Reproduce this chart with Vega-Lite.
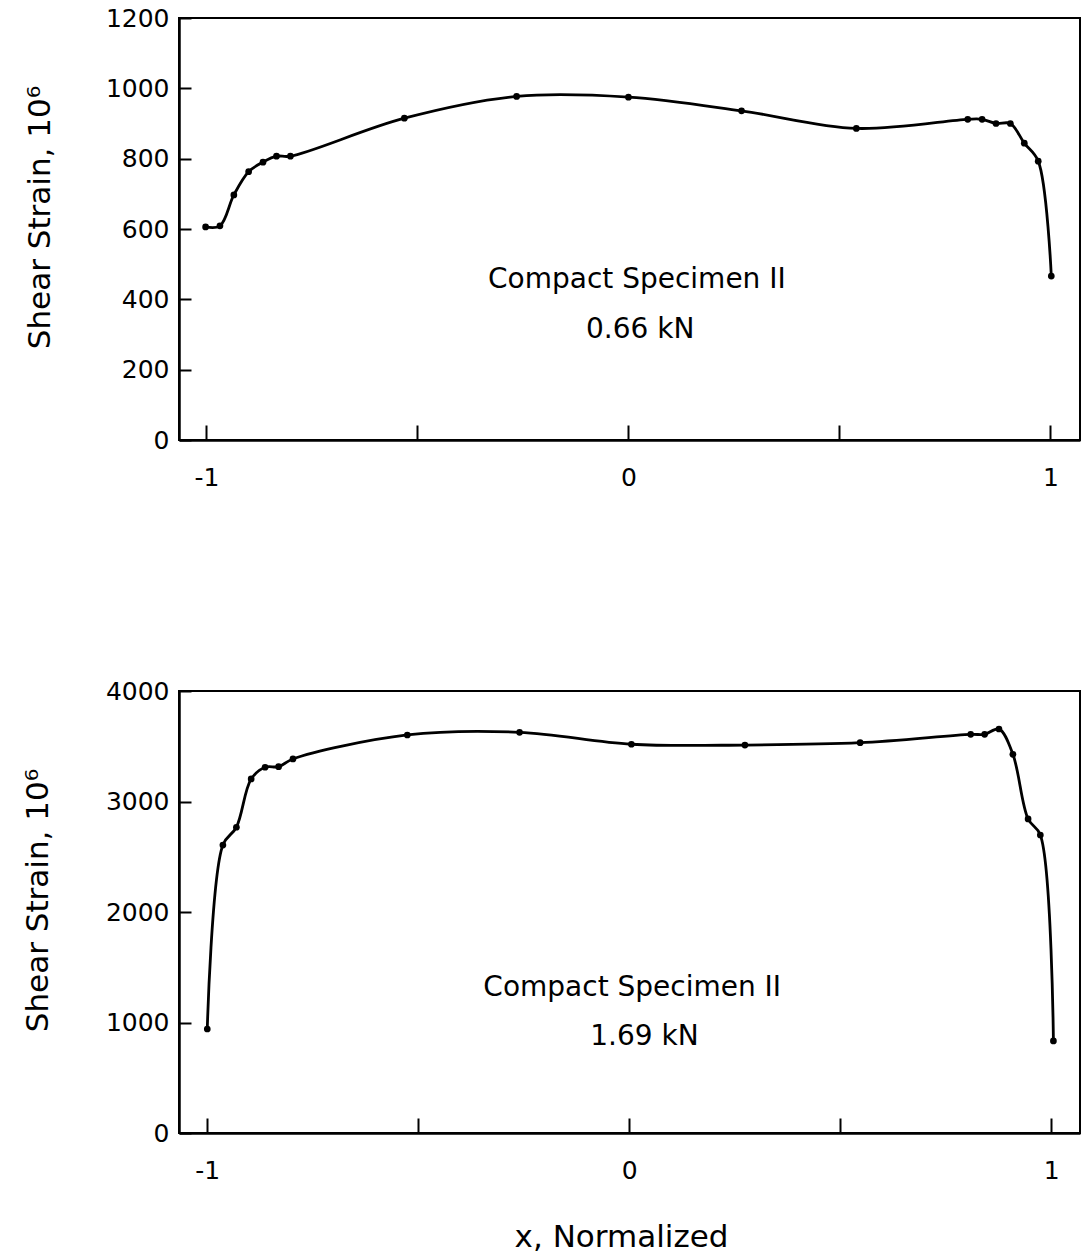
{
  "$schema": "https://vega.github.io/schema/vega-lite/v6.json",
  "background": "white",
  "padding": {"left": 20, "top": 5, "right": 0, "bottom": 5},
  "spacing": 187,
  "config": {
    "font": "DejaVu Sans",
    "view": {"stroke": "black", "strokeWidth": 2},
    "axis": {
      "grid": false,
      "domainColor": "black",
      "domainWidth": 2.5,
      "tickColor": "black",
      "tickWidth": 2,
      "labelColor": "black",
      "labelFont": "DejaVu Sans",
      "labelFontSize": 25,
      "titleFont": "DejaVu Sans",
      "titleFontSize": 31,
      "titleFontWeight": "normal",
      "titleColor": "black"
    },
    "axisX": {"tickSize": -15, "labelPadding": 40},
    "axisY": {"tickSize": -12, "labelPadding": 22, "format": "d"}
  },
  "datasets": {
    "top": [
      {"x": -1.002, "strain": 606},
      {"x": -0.968, "strain": 609},
      {"x": -0.935, "strain": 697},
      {"x": -0.900, "strain": 763},
      {"x": -0.866, "strain": 790},
      {"x": -0.834, "strain": 807},
      {"x": -0.801, "strain": 807},
      {"x": -0.531, "strain": 915},
      {"x": -0.265, "strain": 977},
      {"x": 0.0, "strain": 975},
      {"x": 0.268, "strain": 936},
      {"x": 0.540, "strain": 886},
      {"x": 0.804, "strain": 912},
      {"x": 0.838, "strain": 912},
      {"x": 0.871, "strain": 900},
      {"x": 0.905, "strain": 900},
      {"x": 0.938, "strain": 844},
      {"x": 0.971, "strain": 793},
      {"x": 1.002, "strain": 466}
    ],
    "bottom": [
      {"x": -1.0, "strain": 941},
      {"x": -0.963, "strain": 2606},
      {"x": -0.931, "strain": 2767},
      {"x": -0.896, "strain": 3204},
      {"x": -0.863, "strain": 3310},
      {"x": -0.831, "strain": 3315},
      {"x": -0.797, "strain": 3385},
      {"x": -0.526, "strain": 3602},
      {"x": -0.260, "strain": 3626},
      {"x": 0.005, "strain": 3518},
      {"x": 0.274, "strain": 3511},
      {"x": 0.547, "strain": 3532},
      {"x": 0.809, "strain": 3608},
      {"x": 0.842, "strain": 3608},
      {"x": 0.876, "strain": 3656},
      {"x": 0.909, "strain": 3427},
      {"x": 0.945, "strain": 2842},
      {"x": 0.974, "strain": 2697},
      {"x": 1.005, "strain": 833}
    ],
    "topText": [
      {"x": 0.020, "strain": 431, "label": "Compact Specimen II"},
      {"x": 0.028, "strain": 289, "label": "0.66 kN"}
    ],
    "bottomText": [
      {"x": 0.007, "strain": 1240, "label": "Compact Specimen II"},
      {"x": 0.036, "strain": 796, "label": "1.69 kN"}
    ]
  },
  "vconcat": [
    {
      "width": 901,
      "height": 422,
      "layer": [
        {
          "data": {"name": "top"},
          "mark": {"type": "line", "interpolate": "catmull-rom", "color": "black", "strokeWidth": 2.8},
          "encoding": {
            "x": {
              "field": "x", "type": "quantitative",
              "scale": {"domain": [-1.065, 1.07], "nice": false, "zero": false},
              "axis": {
                "values": [-1, -0.5, 0, 0.5, 1],
                "labelExpr": "datum.value == -1 ? '-1' : (datum.value == 0 ? '0' : (datum.value == 1 ? '1' : ''))",
                "title": null
              }
            },
            "y": {
              "field": "strain", "type": "quantitative",
              "scale": {"domain": [0, 1200], "nice": false},
              "axis": {
                "values": [0, 200, 400, 600, 800, 1000, 1200],
                "title": "Shear Strain,  10⁶",
                "titleX": -130,
                "titleY": 199,
                "titleAngle": -90,
                "titleAlign": "center",
                "titleBaseline": "alphabetic"
              }
            }
          }
        },
        {
          "data": {"name": "top"},
          "mark": {"type": "circle", "size": 45, "color": "black", "opacity": 1},
          "encoding": {
            "x": {"field": "x", "type": "quantitative"},
            "y": {"field": "strain", "type": "quantitative"}
          }
        },
        {
          "data": {"name": "topText"},
          "mark": {"type": "text", "fontSize": 28, "font": "DejaVu Sans", "align": "center", "baseline": "alphabetic", "color": "black"},
          "encoding": {
            "x": {"field": "x", "type": "quantitative"},
            "y": {"field": "strain", "type": "quantitative"},
            "text": {"field": "label"}
          }
        }
      ]
    },
    {
      "width": 901,
      "height": 442,
      "layer": [
        {
          "data": {"name": "bottom"},
          "mark": {"type": "line", "interpolate": "catmull-rom", "color": "black", "strokeWidth": 2.8},
          "encoding": {
            "x": {
              "field": "x", "type": "quantitative",
              "scale": {"domain": [-1.067, 1.068], "nice": false, "zero": false},
              "axis": {
                "values": [-1, -0.5, 0, 0.5, 1],
                "labelExpr": "datum.value == -1 ? '-1' : (datum.value == 0 ? '0' : (datum.value == 1 ? '1' : ''))",
                "title": "x, Normalized",
                "titleX": 442,
                "titleY": 113,
                "titleAlign": "center",
                "titleBaseline": "alphabetic"
              }
            },
            "y": {
              "field": "strain", "type": "quantitative",
              "scale": {"domain": [0, 4000], "nice": false},
              "axis": {
                "values": [0, 1000, 2000, 3000, 4000],
                "title": "Shear Strain,  10⁶",
                "titleX": -132,
                "titleY": 209,
                "titleAngle": -90,
                "titleAlign": "center",
                "titleBaseline": "alphabetic"
              }
            }
          }
        },
        {
          "data": {"name": "bottom"},
          "mark": {"type": "circle", "size": 45, "color": "black", "opacity": 1},
          "encoding": {
            "x": {"field": "x", "type": "quantitative"},
            "y": {"field": "strain", "type": "quantitative"}
          }
        },
        {
          "data": {"name": "bottomText"},
          "mark": {"type": "text", "fontSize": 28, "font": "DejaVu Sans", "align": "center", "baseline": "alphabetic", "color": "black"},
          "encoding": {
            "x": {"field": "x", "type": "quantitative"},
            "y": {"field": "strain", "type": "quantitative"},
            "text": {"field": "label"}
          }
        }
      ]
    }
  ]
}
